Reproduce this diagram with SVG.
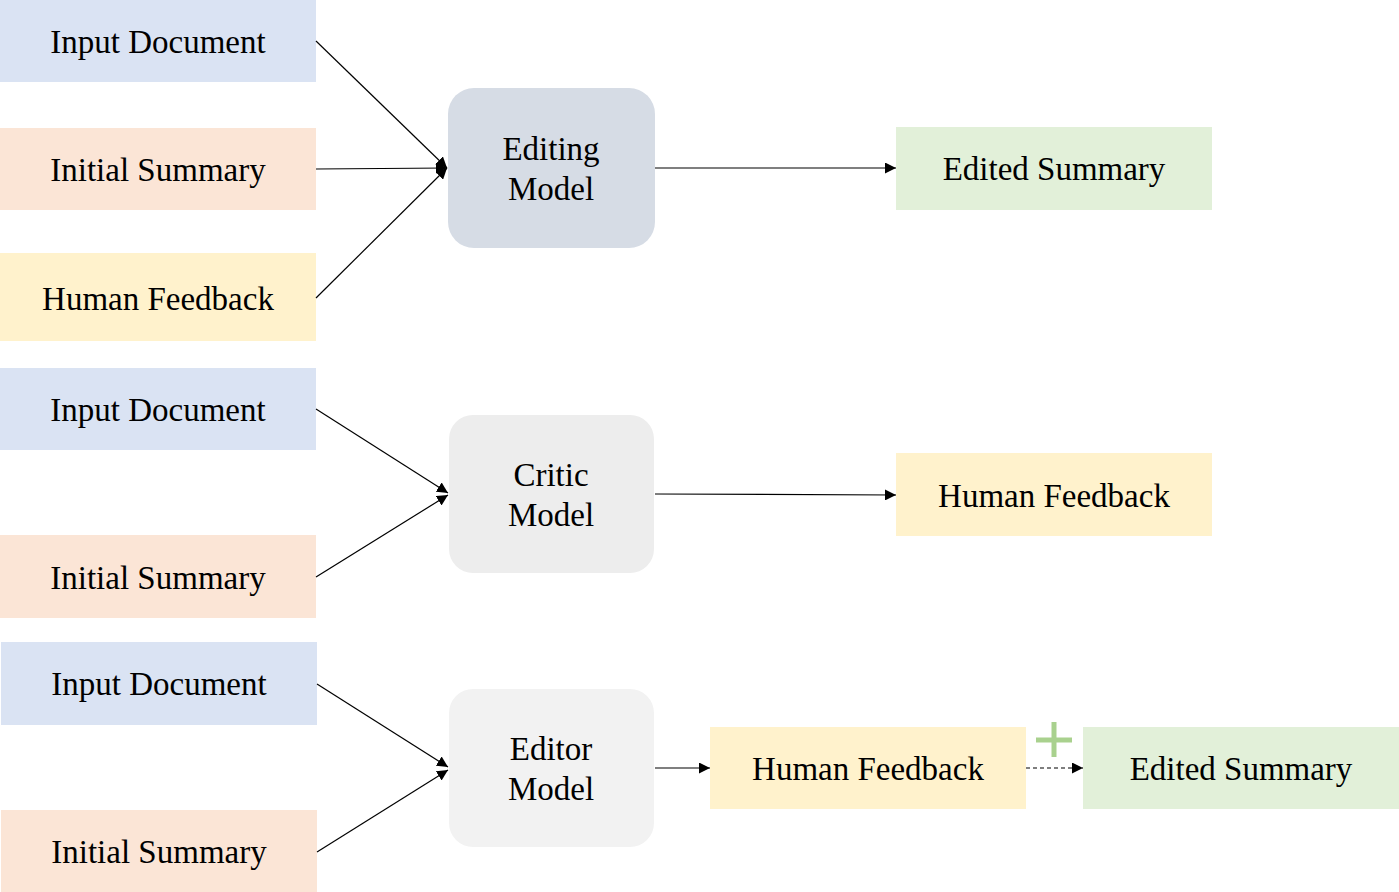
<svg xmlns="http://www.w3.org/2000/svg" width="1399" height="892" viewBox="0 0 1399 892">
<style>
text{font-family:"Liberation Serif","Times New Roman",serif;font-size:33px;fill:#000;text-anchor:middle}
.blue{fill:#dae3f3}.orange{fill:#fbe5d6}.yellow{fill:#fff2cc}.green{fill:#e2f0d9}
.c{stroke:#000;stroke-width:1.2;fill:none;marker-end:url(#ah)}
</style>
<defs>
<marker id="ah" viewBox="0 0 10 10" refX="10" refY="5" markerWidth="11" markerHeight="11" markerUnits="userSpaceOnUse" orient="auto"><path d="M0,0 L10,5 L0,10 z" fill="#000"/></marker>
</defs>
<rect width="1399" height="892" fill="#fff"/>
<g id="r1-input"><rect class="blue" x="0" y="0" width="316" height="82"/><text x="158" y="53">Input Document</text></g>
<g id="r1-summary"><rect class="orange" x="0" y="128" width="316" height="82"/><text x="158" y="181">Initial Summary</text></g>
<g id="r1-feedback"><rect class="yellow" x="0" y="253" width="316" height="88"/><text x="158" y="310">Human Feedback</text></g>
<g id="editing-model"><rect x="448" y="88" width="207" height="160" rx="26" fill="#d6dce5"/><text x="551" y="160">Editing</text><text x="551" y="200">Model</text></g>
<g id="r1-edited"><rect class="green" x="896" y="127" width="316" height="83"/><text x="1054" y="180">Edited Summary</text></g>

<g id="r2-input"><rect class="blue" x="0" y="368" width="316" height="82"/><text x="158" y="421">Input Document</text></g>
<g id="r2-summary"><rect class="orange" x="0" y="535" width="316" height="83"/><text x="158" y="589">Initial Summary</text></g>
<g id="critic-model"><rect x="449" y="415" width="205" height="158" rx="24" fill="#ededed"/><text x="551" y="486">Critic</text><text x="551" y="526">Model</text></g>
<g id="r2-feedback"><rect class="yellow" x="896" y="453" width="316" height="83"/><text x="1054" y="507">Human Feedback</text></g>

<g id="r3-input"><rect class="blue" x="1" y="642" width="316" height="83"/><text x="159" y="695">Input Document</text></g>
<g id="r3-summary"><rect class="orange" x="1" y="810" width="316" height="82"/><text x="159" y="863">Initial Summary</text></g>
<g id="editor-model"><rect x="449" y="689" width="205" height="158" rx="24" fill="#f2f2f2"/><text x="551" y="760">Editor</text><text x="551" y="800">Model</text></g>
<g id="r3-feedback"><rect class="yellow" x="710" y="727" width="316" height="82"/><text x="868" y="780">Human Feedback</text></g>
<g id="r3-edited"><rect class="green" x="1083" y="727" width="316" height="82"/><text x="1241" y="780">Edited Summary</text></g>
<g id="plus"><path d="M1054,722 V757 M1036,740 H1072" stroke="#a9d18e" stroke-width="5" fill="none"/></g>

<g id="connectors">
<line class="c" x1="316" y1="41" x2="447" y2="168"/>
<line class="c" x1="316" y1="169" x2="447" y2="168"/>
<line class="c" x1="316" y1="298" x2="447" y2="168"/>
<line class="c" x1="655" y1="168" x2="896" y2="168"/>
<line class="c" x1="316" y1="409" x2="448" y2="493"/>
<line class="c" x1="316" y1="577" x2="448" y2="495"/>
<line class="c" x1="655" y1="494" x2="896" y2="495"/>
<line class="c" x1="317" y1="684" x2="448" y2="767"/>
<line class="c" x1="317" y1="852" x2="448" y2="770"/>
<line class="c" x1="655" y1="768" x2="710" y2="768"/>
<line class="c" x1="1026" y1="768" x2="1083" y2="768" stroke-dasharray="4,3"/>
</g>
</svg>
